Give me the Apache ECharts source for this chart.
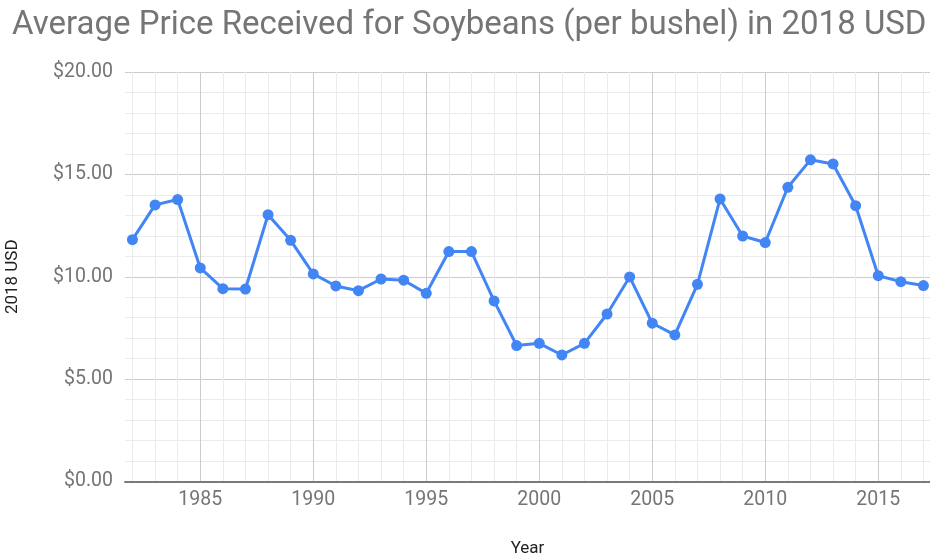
<!DOCTYPE html>
<html>
<head>
<meta charset="utf-8">
<script src="https://cdn.jsdelivr.net/npm/echarts@6/dist/echarts.min.js"></script>
<style>
html,body{margin:0;padding:0;background:#fff;}
#chart{width:930px;height:559px;}
</style>
</head>
<body>
<div id="chart"></div>
<script>
var years = [1982,1983,1984,1985,1986,1987,1988,1989,1990,1991,1992,1993,1994,1995,1996,1997,1998,1999,2000,2001,2002,2003,2004,2005,2006,2007,2008,2009,2010,2011,2012,2013,2014,2015,2016,2017];
var prices = [11.81,13.51,13.77,10.43,9.42,9.40,13.03,11.78,10.14,9.55,9.32,9.89,9.83,9.19,11.23,11.23,8.82,6.64,6.75,6.18,6.75,8.18,9.99,7.73,7.16,9.63,13.80,11.99,11.67,14.37,15.71,15.51,13.47,10.05,9.76,9.57];
var xTickLabels = [1985,1990,1995,2000,2005,2010,2015];
var yTicks = [0,5,10,15,20];

var FONT = 'Roboto, "Noto Sans", sans-serif';
var chart = echarts.init(document.getElementById('chart'), null, {renderer:'canvas'});
var option = {
  backgroundColor:'#ffffff',
  animation:false,
  title:{
    text:'Average Price Received for Soybeans (per bushel) in 2018 USD',
    left:7, top:4,
    textStyle:{color:'#757575', fontSize:33, fontWeight:'normal', fontFamily:FONT}
  },
  grid:{left:125, right:0, top:72, bottom:77.5, containLabel:false, outerBoundsMode:'none'},
  xAxis:{
    type:'value',
    min:1981.67, max:2017.29,
    name:'Year', nameLocation:'middle', nameGap:59,
    nameTextStyle:{color:'#222222', fontSize:17, fontFamily:FONT},
    axisLine:{show:true, onZero:false, lineStyle:{color:'#7a7a7a', width:2}},
    axisTick:{show:false, customValues: years},
    axisLabel:{customValues: xTickLabels, color:'#757575', fontSize:19.5, fontFamily:FONT, margin:9,
      formatter:function(v){return String(Math.round(v));}},
    splitLine:{show:true, lineStyle:{color:['#ebebeb','#ebebeb','#ebebeb','#cccccc','#ebebeb'], width:1}}
  },
  yAxis:{
    type:'value',
    min:yTicks[0], max:yTicks[yTicks.length-1], interval:5,
    name:'2018 USD', nameLocation:'middle', nameGap:104, nameRotate:90,
    nameTextStyle:{color:'#222222', fontSize:17, fontFamily:FONT},
    axisLine:{show:false},
    axisTick:{show:false},
    axisLabel:{color:'#757575', fontSize:19.5, fontFamily:FONT, margin:12,
      formatter:function(v){return '$'+v.toFixed(2);}},
    splitLine:{show:true, lineStyle:{color:'#cccccc', width:1}},
    minorTick:{show:false, splitNumber:5},
    minorSplitLine:{show:true, lineStyle:{color:'#ebebeb', width:1}}
  },
  series:[{
    type:'line',
    data: years.map(function(y,i){return [y, prices[i]];}),
    symbol:'circle', symbolSize:11,
    lineStyle:{color:'#4285F4', width:3},
    itemStyle:{color:'#4285F4'},
    z:5
  }]
};
chart.setOption(option);
</script>
</body>
</html>
